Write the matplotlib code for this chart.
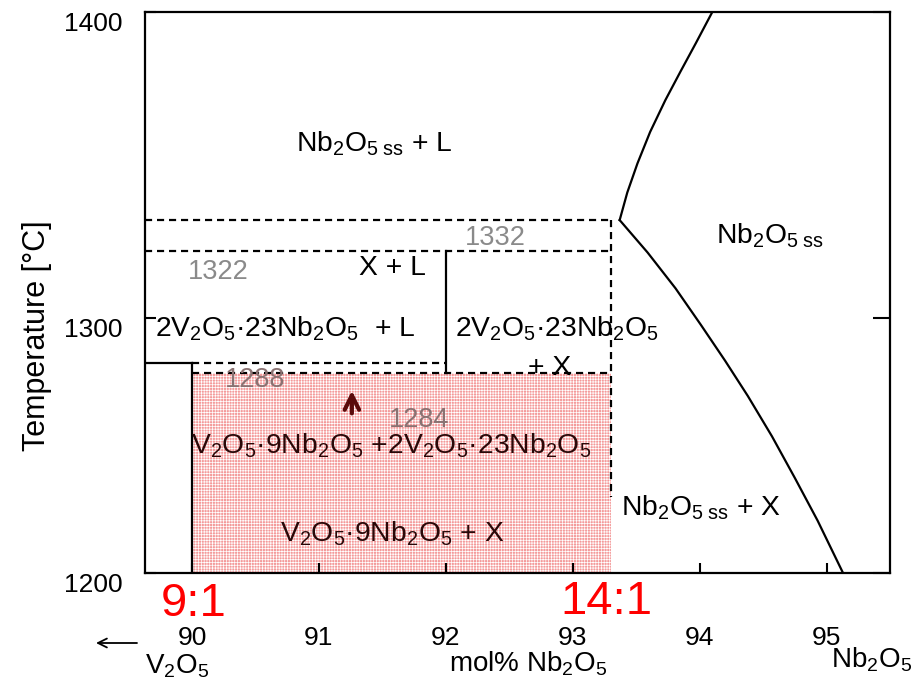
import numpy as np
import matplotlib
matplotlib.use("Agg")
import matplotlib.pyplot as plt

plt.rcParams.update({
    "font.family": ["Liberation Sans", "DejaVu Sans"],
    "mathtext.fontset": "custom",
    "mathtext.rm": "Liberation Sans",
    "mathtext.it": "Liberation Sans:italic",
    "mathtext.bf": "Liberation Sans:bold",
    "hatch.linewidth": 0.5,
    "hatch.color": "white",
})

# ---- phase boundaries (mol% Nb2O5, deg C) ----
liq_x = [93.37, 93.43, 93.51, 93.61, 93.73, 93.85, 93.97, 94.10]
liq_T = [1332, 1341.0, 1350.5, 1360.8, 1371.2, 1380.6, 1389.8, 1400]
sol_x = [93.37, 93.59, 93.81, 94.01, 94.20, 94.38, 94.57, 94.75, 94.93, 95.13]
sol_T = [1332, 1321.4, 1309.7, 1297.3, 1283.3, 1269.4, 1253.6, 1237.3, 1220.5, 1200]
iso_T = [1332, 1322, 1282.5, 1278.6]          # isotherms as drawn
iso_lbl = ["1332", "1322", "1288", "1284"]    # their printed values
x_91, x_141, x_mid = 90.0, 93.3, 92.0         # 9:1, 14:1, X boundary
T_dash_end = 1230
xticks = [90, 91, 92, 93, 94, 95]
yticks = [1200, 1300, 1400]

# the original temperature axis is not uniform: 1200-1300 is shorter than 1300-1400
def fwd(t):
    t = np.asarray(t, float)
    return np.where(t <= 1300, (t - 1200) * 2.55, 255 + (t - 1300) * 3.06)

def inv(u):
    u = np.asarray(u, float)
    return np.where(u <= 255, 1200 + u / 2.55, 1300 + (u - 255) / 3.06)

W, H = 915, 691
fx = lambda px: px / W
fy = lambda py: 1 - py / H

fig = plt.figure(figsize=(9.15, 6.91), dpi=100)
ax = fig.add_axes([fx(145), fy(573), (890 - 145) / W, (573 - 12) / H])
ax.set_yscale("function", functions=(fwd, inv))
ax.set_xlim(89.63, 95.5)
ax.set_ylim(1200, 1400)

# ---- shaded 9:1 .. 14:1 window ----
ax.fill_between([x_91, x_141], 1200, iso_T[3], facecolor="#f49a9a",
                edgecolor="white", hatch="++++++", linewidth=0, zorder=1)

lw = 1.6
dash = (0, (3.2, 2.2))
k = "black"
ax.plot([89.63, x_141], [iso_T[0]] * 2, color=k, lw=lw, ls=dash, zorder=3)
ax.plot([89.63, x_141], [iso_T[1]] * 2, color=k, lw=lw, ls=dash, zorder=3)
ax.plot([x_141, x_141], [iso_T[0], T_dash_end], color=k, lw=lw, ls=dash, zorder=3)
ax.plot([x_mid, x_mid], [iso_T[1], iso_T[3]], color=k, lw=lw, zorder=3)
ax.plot([89.63, x_91], [iso_T[2]] * 2, color=k, lw=lw, zorder=3)
ax.plot([x_91, x_mid], [iso_T[2]] * 2, color=k, lw=lw, ls=dash, zorder=3)
ax.plot([x_91, x_141], [iso_T[3]] * 2, color=k, lw=lw, ls=dash, zorder=3)
ax.plot([x_91, x_91], [iso_T[2], 1200], color=k, lw=lw, zorder=3)
ax.plot(liq_x, liq_T, color=k, lw=lw, zorder=3)
ax.plot(sol_x, sol_T, color=k, lw=lw, zorder=3)

# ---- region labels ----
fs = 20.3
ss = r"Nb$_2$O$_{5\ \mathrm{ss}}$"
dark = "#2a0808"
def lab(x, T, s, c="black", size=fs):
    ax.text(x, T, s, ha="left", va="baseline", fontsize=size, color=c, zorder=5)

lab(90.82, 1354.3, ss + " + L")
lab(94.13, 1324.4, ss)
lab(91.32, 1314.1, "X + L")
lab(89.71, 1292.7, r"2V$_2$O$_5$·23Nb$_2$O$_5$  + L")
lab(92.07, 1292.7, r"2V$_2$O$_5$·23Nb$_2$O$_5$")
lab(92.65, 1277.6, "+ X")
lab(89.99, 1246.9, r"V$_2$O$_5$·9Nb$_2$O$_5$ +2V$_2$O$_5$·23Nb$_2$O$_5$", c=dark)
lab(90.69, 1212.3, r"V$_2$O$_5$·9Nb$_2$O$_5$ + X", c=dark)
lab(93.38, 1222.7, ss + " + X")

gray = "#8a8a8a"
lab(92.15, 1323.9, iso_lbl[0], c=gray, size=19.5)
lab(89.97, 1312.6, iso_lbl[1], c=gray, size=19.5)
lab(90.26, 1273.1, iso_lbl[2], c="#8a7272", size=19.5)
lab(91.55, 1257.4, iso_lbl[3], c="#8a7272", size=19.5)

ax.annotate("", xy=(91.26, 1271.5), xytext=(91.26, 1262.6),
            arrowprops=dict(arrowstyle="->", lw=3.0, color="#5a0a0a",
                            mutation_scale=26, shrinkA=0, shrinkB=0), zorder=5)

# ---- axes styling ----
ax.set_xticks(xticks)
ax.set_yticks(yticks)
ax.minorticks_off()
ax.tick_params(axis="x", direction="in", length=7, width=1.5, pad=38, labelsize=19)
ax.tick_params(axis="y", direction="in", width=1.5, pad=16, labelsize=19, right=True)
for t in ax.yaxis.get_major_ticks():
    t.tick1line.set_markersize(8)
    t.tick2line.set_markersize(12)
for lbl in ax.get_yticklabels():
    lbl.set_va("top")
for s in ax.spines.values():
    s.set_linewidth(1.6)

# ---- outside annotations ----
fig.text(fx(37), fy(336), "Temperature [°C]", rotation=90, ha="center", va="center", fontsize=22)
fig.text(fx(194), fy(616), "9:1", ha="center", va="baseline", fontsize=34, color="red")
fig.text(fx(606), fy(614), "14:1", ha="center", va="baseline", fontsize=34, color="red")
fig.text(fx(145), fy(673), r"V$_2$O$_5$", ha="left", va="baseline", fontsize=20)
fig.text(fx(449), fy(671), r"mol% Nb$_2$O$_5$", ha="left", va="baseline", fontsize=20)
fig.text(fx(831), fy(668), r"Nb$_2$O$_5$", ha="left", va="baseline", fontsize=20)
ax.annotate("", xy=(fx(96), fy(643)), xytext=(fx(137), fy(643)),
            xycoords="figure fraction", textcoords="figure fraction",
            arrowprops=dict(arrowstyle="->", lw=1.3, color="black", mutation_scale=16,
                            shrinkA=0, shrinkB=0))

fig.savefig("out.png", dpi=100)
